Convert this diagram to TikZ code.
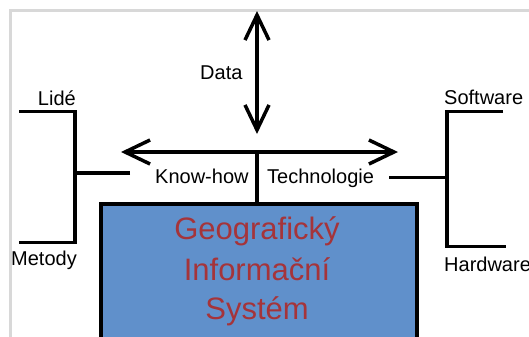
\documentclass[tikz,border=0pt]{standalone}
\usepackage{fontspec}
\setmainfont{Liberation Sans}
\usetikzlibrary{arrows.meta}
\definecolor{boxblue}{HTML}{6090CB}
\definecolor{gisred}{HTML}{A5343A}
\definecolor{framegray}{HTML}{D8D8D8}
\tikzset{
  lbl/.style={inner sep=0pt, font=\fontsize{20bp}{24bp}\selectfont, text=black},
  gisl/.style={inner sep=0pt, text=gisred, font=\fontsize{31bp}{40bp}\selectfont, anchor=base},
  bar/.style={line width=3.5bp, black},
  dbl/.style={line width=3.5bp, black, {Straight Barb[length=25bp,width=24bp,line width=3.5bp]}-{Straight Barb[length=25bp,width=24bp,line width=3.5bp]}},
}
\begin{document}
\begin{tikzpicture}[x=1bp,y=-1bp]
\useasboundingbox (0,0) rectangle (529,336);
% frame
\draw[framegray, line width=2.5bp] (10.5,340) -- (10.5,10.5) -- (535,10.5);
% main box
\node[draw=black, line width=4bp, fill=boxblue, minimum width=316bp, minimum height=160bp, anchor=north west, inner sep=0pt] (gis) at (99,202) {};
\node[gisl] (g1) at (257,239) {Geografický};
\node[gisl] (g2) at (257,280) {Informační};
\node[gisl] (g3) at (257,319) {Systém};
% coordinates
\coordinate (dtop) at (257,11);
\coordinate (dbot) at (257,134);
\coordinate (hl) at (121,152);
\coordinate (hr) at (398,152);
\coordinate (hm) at (257,152);
\coordinate (gtop) at (257,202);
\draw[dbl] (dtop) -- (dbot);
\draw[dbl] (hl) -- (hr);
\draw[bar] (hm) -- (gtop);
% labels
\node[lbl, anchor=base west] (data) at (200,79) {Data};
\node[lbl, anchor=base west] (know) at (155,183) {Know-how};
\node[lbl, anchor=base west] (tech) at (267,183) {Technologie};
\node[lbl, anchor=base east] (lide) at (76,105) {Lidé};
\node[lbl, anchor=base west] (met) at (11,265) {Metody};
\node[lbl, anchor=base west] (soft) at (444,104) {Software};
\node[lbl, anchor=base west] (hard) at (444,271) {Hardware};
% left bracket
\coordinate (lstub) at (130,173);
\coordinate (lmid) at (75,173);
\coordinate (ltop) at (75,111.5);
\coordinate (lbot) at (75,242.5);
\coordinate (ltl) at (19,111.5);
\coordinate (lbl) at (19,242.5);
\draw[bar] (lstub) -- (lmid);
\draw[bar, line join=miter] (ltl) -- (ltop) -- (lbot) -- (lbl);
% right bracket
\coordinate (rstub) at (389,177.5);
\coordinate (rmid) at (447,177.5);
\coordinate (rtop) at (447,111.5);
\coordinate (rbot) at (447,246.5);
\coordinate (rtr) at (503,111.5);
\coordinate (rbr) at (506,246.5);
\draw[bar] (rstub) -- (rmid);
\draw[bar, line join=miter] (rtr) -- (rtop) -- (rbot) -- (rbr);
\end{tikzpicture}
\end{document}
